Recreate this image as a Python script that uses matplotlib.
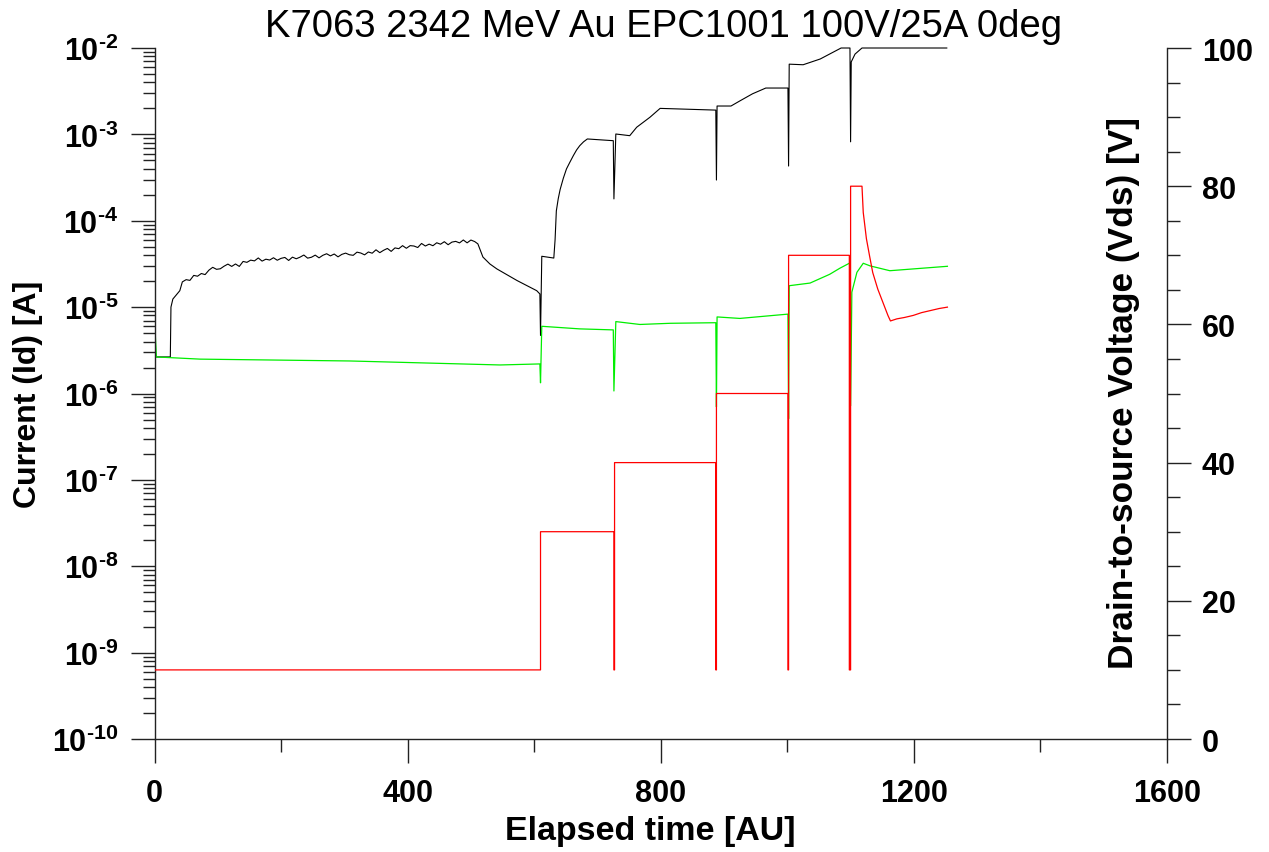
import numpy as np
import matplotlib
matplotlib.use('Agg')
import matplotlib.pyplot as plt
from matplotlib.ticker import LogLocator, MultipleLocator, NullFormatter, FuncFormatter

plt.rcParams['font.family'] = ['Liberation Sans', 'DejaVu Sans']
plt.rcParams['font.weight'] = 'bold'
plt.rcParams['mathtext.fontset'] = 'custom'
plt.rcParams['mathtext.rm'] = 'Liberation Sans'
plt.rcParams['mathtext.bf'] = 'Liberation Sans:bold'

# --- drain current Id [A] (left, log) ---
id_rise_t = [3, 25, 26, 29, 40, 44]
id_rise = [2.65e-6, 2.65e-6, 1.0e-5, 1.24e-5, 1.55e-5, 1.96e-5]

id_noise_t = [50, 56, 62, 68, 74, 80, 86, 92, 98, 104, 110, 116, 122, 128, 134, 140,
              146, 152, 158, 164, 170, 176, 182, 188, 194, 200, 206, 212, 218, 224,
              230, 236, 242, 248, 254, 260, 266, 272, 278, 284, 290, 296, 302, 308,
              314, 320, 326, 332, 338, 344, 350, 356, 362, 368, 374, 380, 386, 392,
              398, 404, 410, 416, 422, 428, 434, 440, 446, 452, 458, 464, 470, 476,
              482, 488, 494, 500, 506]
id_noise_e5 = [2.08, 2.04, 2.33, 2.28, 2.45, 2.38, 2.68, 2.89, 2.74, 2.78, 2.98, 3.15,
               2.96, 3.16, 2.96, 3.38, 3.3, 3.5, 3.43, 3.71, 3.41, 3.59, 3.51, 3.73,
               3.49, 3.67, 3.76, 3.47, 3.79, 3.63, 3.79, 4.01, 3.69, 3.78, 4.0, 3.72,
               3.98, 4.15, 3.92, 4.12, 3.82, 4.08, 4.22, 4.04, 3.98, 4.33, 4.23, 4.03,
               4.35, 4.21, 4.61, 4.27, 4.55, 4.78, 4.42, 4.85, 4.75, 5.15, 4.8, 5.15,
               5.1, 4.9, 5.46, 5.1, 5.36, 5.14, 5.56, 5.35, 5.72, 5.28, 5.66, 5.77,
               5.54, 5.99, 5.55, 5.98, 5.74]

id_steps_t = [511, 519, 530, 541, 573, 604, 609, 610, 612, 631, 633, 635, 638, 641, 646,
              651, 656, 662, 667, 672, 678, 684, 725, 726, 729, 751, 762, 783, 799, 887,
              888, 889, 911, 925, 945, 966, 1001, 1002, 1003, 1025, 1052, 1085, 1099,
              1100, 1101, 1107, 1118, 1252]
id_steps = [5.4e-5, 3.8e-5, 3.16e-5, 2.77e-5, 2.03e-5, 1.55e-5, 1.42e-5, 4.7e-6, 3.88e-5,
            3.7e-5, 6.0e-5, 1.3e-4, 1.8e-4, 2.3e-4, 3.1e-4, 3.98e-4, 4.7e-4, 5.7e-4,
            6.6e-4, 7.4e-4, 8.2e-4, 8.85e-4, 8.45e-4, 1.79e-4, 1.01e-3, 9.66e-4, 1.21e-3,
            1.58e-3, 2.0e-3, 1.91e-3, 2.96e-4, 2.13e-3, 2.13e-3, 2.44e-3, 2.95e-3, 3.44e-3,
            3.44e-3, 4.3e-4, 6.5e-3, 6.4e-3, 7.46e-3, 1e-2, 1e-2, 8.2e-4, 6.9e-3, 8.5e-3,
            1e-2, 1e-2]

# --- gate current (left, log) ---
ig_t = [0, 1, 3, 72, 309, 546, 609, 610, 612, 672, 725, 726, 729, 767, 815, 887, 888, 889,
        925, 1001, 1002, 1003, 1036, 1067, 1083, 1099, 1100, 1102, 1110, 1120, 1131, 1162, 1253]
ig = [2.8e-10, 5.2e-6, 2.65e-6, 2.5e-6, 2.38e-6, 2.14e-6, 2.2e-6, 1.33e-6, 6.0e-6, 5.6e-6,
      5.45e-6, 1.07e-6, 6.8e-6, 6.3e-6, 6.5e-6, 6.6e-6, 7.0e-7, 7.7e-6,
      7.4e-6, 8.3e-6, 5.1e-7, 1.77e-5, 1.9e-5, 2.4e-5, 2.82e-5, 3.25e-5, 7.2e-7, 1.49e-5,
      2.53e-5, 3.22e-5, 3.0e-5, 2.64e-5, 2.97e-5]

# --- drain-to-source voltage Vds [V] (right) ---
vds_t = [1, 610, 610, 726, 726, 727, 727, 887, 887, 888, 888, 1001, 1001, 1002, 1002,
         1098, 1098, 1100, 1100, 1118, 1120, 1125, 1130, 1135, 1143, 1151, 1159, 1163,
         1173, 1185, 1199, 1212, 1226, 1240, 1253]
vds = [10, 10, 30, 30, 10, 10, 40, 40, 10, 10, 50, 50, 10, 10, 70,
       70, 10, 10, 80, 80, 76.2, 72.4, 69.9, 67.5, 65.1, 63.2, 61.3, 60.5,
       60.8, 61.0, 61.3, 61.7, 62.0, 62.3, 62.5]

id_t = id_rise_t + id_noise_t + id_steps_t
id_a = id_rise + [v * 1e-5 for v in id_noise_e5] + id_steps

fig = plt.figure(figsize=(12.69, 8.53), dpi=100)
ax = fig.add_axes([0.12175, 0.13247, 0.79787, 0.81008])
ax2 = ax.twinx()

spine_c = '#222222'
ax.plot(id_t, id_a, color='black', lw=0.8, clip_on=False)
ax.plot(ig_t, ig, color='#00ee00', lw=0.9)
ax2.plot(vds_t, vds, color='#ff0000', lw=0.9)

ax.set_xlim(0, 1600)
ax.set_yscale('log')
ax.set_ylim(1e-10, 1e-2)
ax2.set_ylim(0, 100)


def exp_label(v, pos):
    return '$\\mathbf{10^{\u2010%d}}$' % abs(round(np.log10(v)))


ax.xaxis.set_major_locator(MultipleLocator(400))
ax.xaxis.set_minor_locator(MultipleLocator(200))
ax.yaxis.set_major_locator(LogLocator(base=10, numticks=20))
ax.yaxis.set_minor_locator(LogLocator(base=10, subs=np.arange(2, 10), numticks=100))
ax.yaxis.set_minor_formatter(NullFormatter())
ax.yaxis.set_major_formatter(FuncFormatter(exp_label))
ax2.yaxis.set_major_locator(MultipleLocator(20))
ax2.yaxis.set_minor_locator(MultipleLocator(5))

for a in (ax, ax2):
    a.spines['top'].set_visible(False)
    for s in a.spines.values():
        s.set_color(spine_c)
        s.set_linewidth(1.0)
ax.spines['right'].set_visible(False)
ax2.spines['left'].set_visible(False)
ax2.spines['bottom'].set_visible(False)

ax.tick_params(axis='x', which='major', direction='out', length=17, width=1, pad=11,
               labelsize=22, color=spine_c)
ax.tick_params(axis='x', which='minor', direction='out', length=9, width=1, color=spine_c)
ax.tick_params(axis='y', which='major', direction='out', length=17, width=1, pad=9,
               labelsize=22, color=spine_c)
ax.tick_params(axis='y', which='minor', direction='out', length=9, width=1, color=spine_c)
ax2.tick_params(axis='y', which='major', direction='out', length=17, width=1, pad=8,
                labelsize=22, color=spine_c)
ax2.tick_params(axis='y', which='minor', direction='out', length=9, width=1, color=spine_c)

fig.text(664 / 1269, 1 - 37 / 853, 'K7063 2342 MeV Au EPC1001 100V/25A 0deg',
         fontsize=27.5, fontweight='normal', ha='center', va='baseline')
fig.text(650 / 1269, 1 - 840 / 853, 'Elapsed time [AU]', fontsize=24.5,
         ha='center', va='baseline')
fig.text(28 / 1269, 1 - 394 / 853, 'Current (Id) [A]', fontsize=23,
         rotation=90, ha='center', va='center')
fig.text(1123 / 1269, 1 - 393 / 853, 'Drain-to-source Voltage (Vds) [V]', fontsize=25.4,
         rotation=90, ha='center', va='center')

fig.savefig('out.png', dpi=100)
